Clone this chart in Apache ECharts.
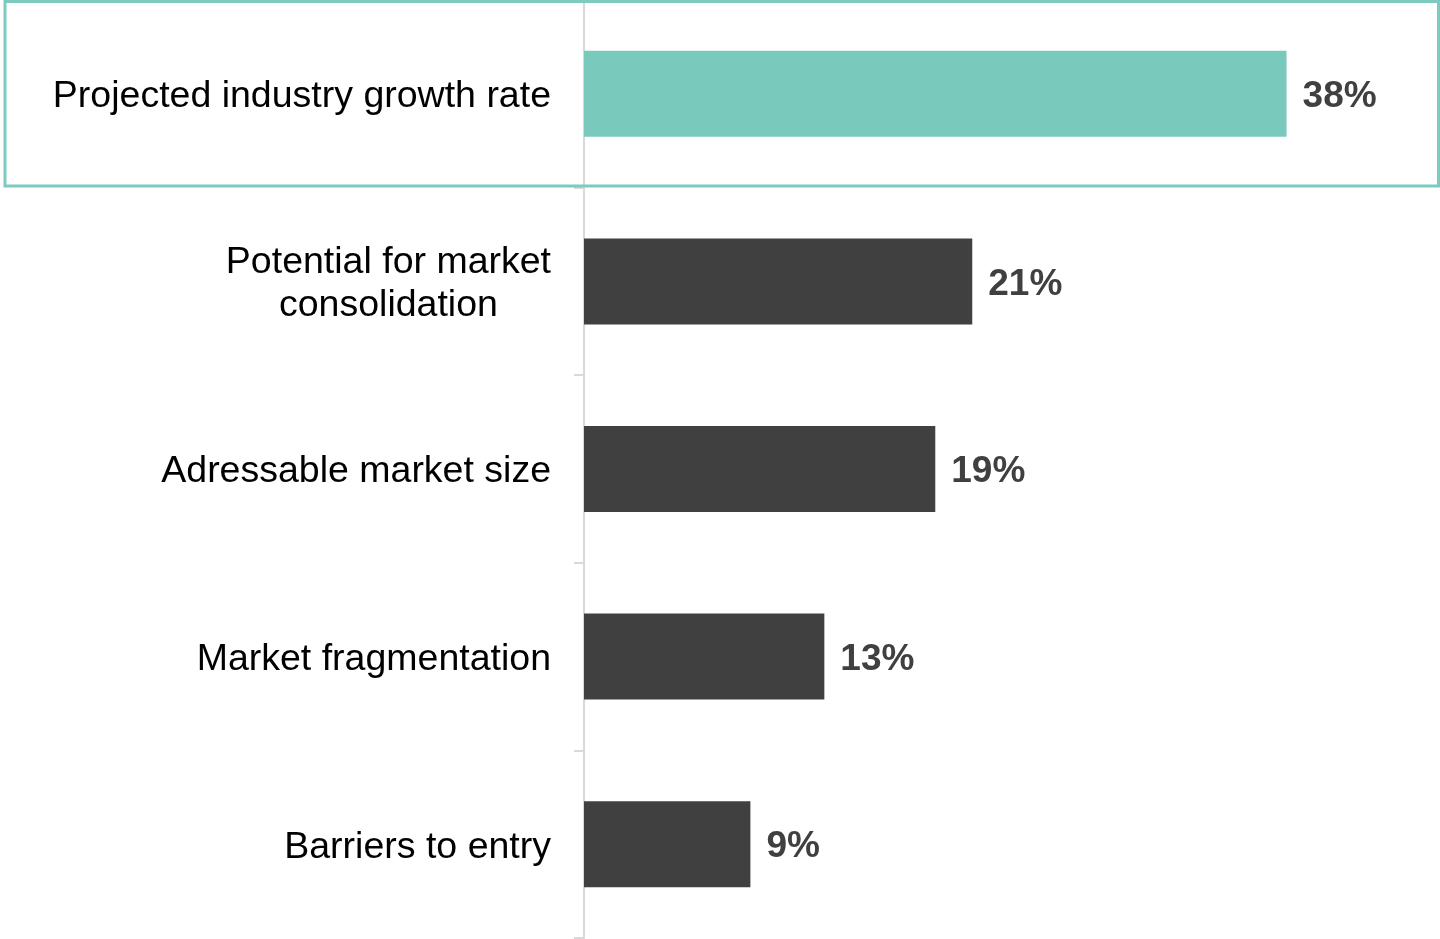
<!DOCTYPE html>
<html>
<head>
<meta charset="utf-8">
<script src="https://cdn.jsdelivr.net/npm/echarts@6/dist/echarts.min.js"></script>
<style>
  html, body { margin: 0; padding: 0; background: #ffffff; }
  #chart { width: 1440px; height: 939px; }
</style>
</head>
<body>
<div id="chart"></div>
<script>
// Factors, top to bottom, with their share of respondents (%)
const categories = [
  'Projected industry growth rate',
  'Potential for market\nconsolidation',
  'Adressable market size',
  'Market fragmentation',
  'Barriers to entry'
];
const values = [38, 21, 19, 13, 9];
const highlightIndex = 0;

const TEAL = '#79c9bc';
const DARK = '#404040';
const FONT = '"Liberation Sans", Arial, Helvetica, sans-serif';

const chart = echarts.init(document.getElementById('chart'), null, { renderer: 'canvas' });

const option = {
  animation: false,
  backgroundColor: '#ffffff',
  grid: { left: 584, right: 0, top: 0, bottom: 1, containLabel: false },
  xAxis: {
    type: 'value',
    min: 0,
    max: 46.3,
    show: false
  },
  yAxis: {
    type: 'category',
    inverse: true,
    data: categories,
    offset: 1,
    axisLine: { show: true, lineStyle: { color: '#d9d9d9', width: 2 } },
    axisTick: { show: true, length: 10, lineStyle: { color: '#d9d9d9', width: 2 } },
    axisLabel: {
      margin: 32,
      padding: [6, 0, 0, 0],
      fontFamily: FONT,
      fontSize: 37.5,
      color: '#000000',
      lineHeight: 43,
      align: 'right',
      formatter: function (v) {
        return v.split('\n').map(function (s) { return '{c|' + s + '}'; }).join('\n');
      },
      rich: {
        c: { align: 'center', fontFamily: FONT, fontSize: 37.5, color: '#000000', lineHeight: 43 }
      }
    }
  },
  series: [{
    type: 'bar',
    barWidth: 86,
    data: values.map(function (v, i) {
      return { value: v, itemStyle: { color: i === highlightIndex ? TEAL : DARK } };
    }),
    label: {
      show: true,
      position: 'right',
      distance: 16,
      offset: [0, 3],
      fontFamily: FONT,
      fontSize: 37,
      fontWeight: 'bold',
      color: DARK,
      formatter: '{c}%'
    }
  }]
};

chart.setOption(option);

// Outline around the highlighted category row, spanning the full chart width
const center = chart.convertToPixel({ yAxisIndex: 0 }, categories[highlightIndex]);
const next = chart.convertToPixel({ yAxisIndex: 0 }, categories[highlightIndex + 1]);
const band = next - center;
chart.setOption({
  graphic: [{
    type: 'rect',
    z: 100,
    shape: { x: 5, y: center - band / 2 + 1.5, width: 1433.5, height: band - 3 },
    style: { fill: 'none', stroke: '#7dcbbf', lineWidth: 3 }
  }]
});
</script>
</body>
</html>
